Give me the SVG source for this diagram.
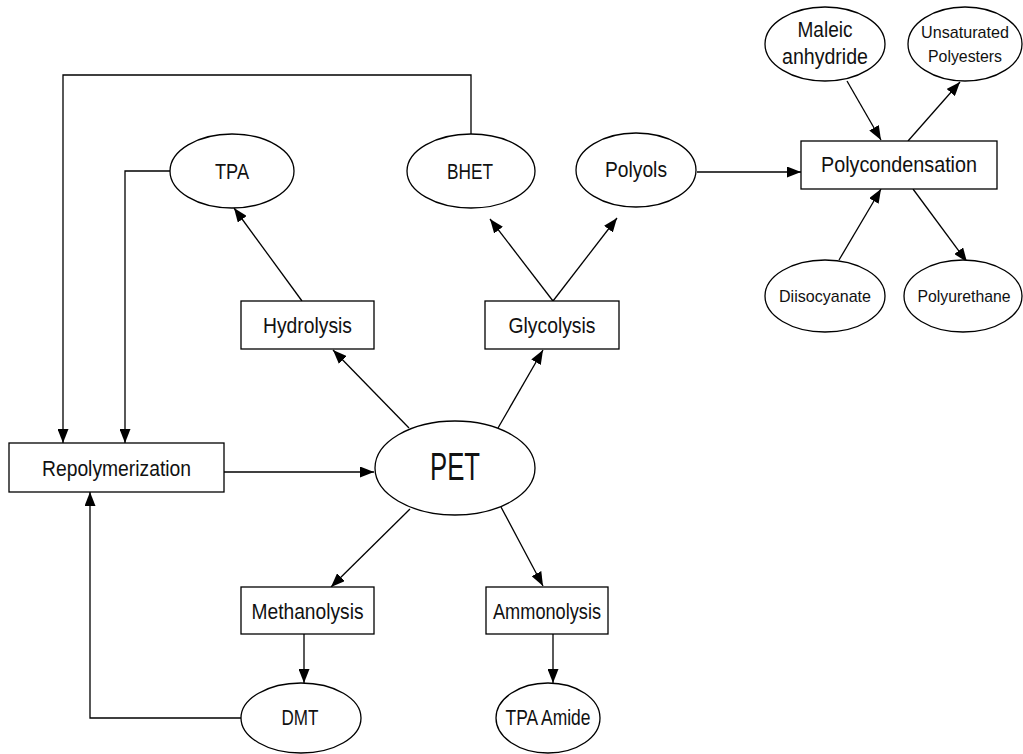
<svg xmlns="http://www.w3.org/2000/svg" width="1023" height="754" viewBox="0 0 1023 754">
<style>
.n{fill:#fff;stroke:#000;stroke-width:1.3}
.t{font-family:"Liberation Sans",Arial,sans-serif;font-size:22px;fill:#111;text-anchor:middle}
.s{font-size:17px}
.c{fill:none;stroke:#000;stroke-width:1.3}
</style>
<defs>
<marker id="a" markerUnits="userSpaceOnUse" markerWidth="15" markerHeight="11" refX="14" refY="5.5" orient="auto"><path d="M0,0 L14,5.5 L0,11 z" fill="#000"/></marker>
</defs>
<rect width="1023" height="754" fill="#fff"/>
<g id="connectors">
<polyline class="c" points="471,134 471,75 63,75 63,443" marker-end="url(#a)"/>
<polyline class="c" points="170,171 125,171 125,443" marker-end="url(#a)"/>
<polyline class="c" points="241,718 90,718 90,492" marker-end="url(#a)"/>
<line class="c" x1="224" y1="472" x2="374" y2="472" marker-end="url(#a)"/>
<line class="c" x1="409" y1="428" x2="333" y2="350" marker-end="url(#a)"/>
<line class="c" x1="498" y1="428" x2="543" y2="350" marker-end="url(#a)"/>
<line class="c" x1="410" y1="509" x2="331" y2="587" marker-end="url(#a)"/>
<line class="c" x1="501" y1="507" x2="543" y2="586" marker-end="url(#a)"/>
<line class="c" x1="302" y1="301" x2="234" y2="208" marker-end="url(#a)"/>
<line class="c" x1="553" y1="301" x2="490" y2="219" marker-end="url(#a)"/>
<line class="c" x1="553" y1="301" x2="617" y2="218" marker-end="url(#a)"/>
<line class="c" x1="304" y1="634" x2="304" y2="683" marker-end="url(#a)"/>
<line class="c" x1="553" y1="634" x2="553" y2="683" marker-end="url(#a)"/>
<line class="c" x1="697" y1="172" x2="801" y2="172" marker-end="url(#a)"/>
<line class="c" x1="847" y1="81" x2="881" y2="140" marker-end="url(#a)"/>
<line class="c" x1="908" y1="141" x2="960" y2="82" marker-end="url(#a)"/>
<line class="c" x1="839" y1="260" x2="881" y2="189" marker-end="url(#a)"/>
<line class="c" x1="913" y1="189" x2="967" y2="262" marker-end="url(#a)"/>
</g>
<g id="pet"><ellipse class="n" cx="455" cy="468" rx="80" ry="47"/><text class="t" x="455" y="480" style="font-size:38px" textLength="50" lengthAdjust="spacingAndGlyphs">PET</text></g>
<g id="repolymerization"><rect class="n" x="9" y="443" width="215" height="49"/><text class="t" x="116.5" y="476" textLength="149" lengthAdjust="spacingAndGlyphs">Repolymerization</text></g>
<g id="hydrolysis"><rect class="n" x="241" y="301" width="133" height="48"/><text class="t" x="307.5" y="333" textLength="89" lengthAdjust="spacingAndGlyphs">Hydrolysis</text></g>
<g id="glycolysis"><rect class="n" x="485" y="301" width="134" height="48"/><text class="t" x="552" y="333" textLength="87" lengthAdjust="spacingAndGlyphs">Glycolysis</text></g>
<g id="methanolysis"><rect class="n" x="241" y="587" width="133" height="47"/><text class="t" x="307.5" y="619" textLength="112" lengthAdjust="spacingAndGlyphs">Methanolysis</text></g>
<g id="ammonolysis"><rect class="n" x="486" y="587" width="122" height="47"/><text class="t" x="547" y="619" textLength="108" lengthAdjust="spacingAndGlyphs">Ammonolysis</text></g>
<g id="tpa"><ellipse class="n" cx="232" cy="171" rx="62" ry="37"/><text class="t" x="232" y="179" textLength="34" lengthAdjust="spacingAndGlyphs">TPA</text></g>
<g id="bhet"><ellipse class="n" cx="471" cy="171" rx="64" ry="37"/><text class="t" x="470" y="179" textLength="46" lengthAdjust="spacingAndGlyphs">BHET</text></g>
<g id="polyols"><ellipse class="n" cx="636" cy="170" rx="60" ry="37"/><text class="t" x="636" y="177" textLength="62" lengthAdjust="spacingAndGlyphs">Polyols</text></g>
<g id="dmt"><ellipse class="n" cx="301" cy="718" rx="60" ry="35"/><text class="t" x="300" y="725" textLength="37" lengthAdjust="spacingAndGlyphs">DMT</text></g>
<g id="tpa-amide"><ellipse class="n" cx="548" cy="718" rx="52" ry="35"/><text class="t" x="548" y="725" textLength="85" lengthAdjust="spacingAndGlyphs">TPA Amide</text></g>
<g id="polycondensation"><rect class="n" x="801" y="141" width="196" height="48"/><text class="t" x="899" y="172" textLength="156" lengthAdjust="spacingAndGlyphs">Polycondensation</text></g>
<g id="maleic-anhydride"><ellipse class="n" cx="825" cy="44" rx="60" ry="37"/><text class="t" x="825" y="37" textLength="55" lengthAdjust="spacingAndGlyphs">Maleic</text><text class="t" x="825" y="64" textLength="86" lengthAdjust="spacingAndGlyphs">anhydride</text></g>
<g id="unsaturated-polyesters"><ellipse class="n" cx="965" cy="44" rx="57" ry="37"/><text class="t s" x="965" y="38" textLength="88" lengthAdjust="spacingAndGlyphs">Unsaturated</text><text class="t s" x="965" y="62" textLength="74" lengthAdjust="spacingAndGlyphs">Polyesters</text></g>
<g id="diisocyanate"><ellipse class="n" cx="825" cy="296" rx="60" ry="36"/><text class="t s" x="825" y="302" textLength="92" lengthAdjust="spacingAndGlyphs">Diisocyanate</text></g>
<g id="polyurethane"><ellipse class="n" cx="963" cy="296" rx="59" ry="36"/><text class="t s" x="964" y="302" textLength="93" lengthAdjust="spacingAndGlyphs">Polyurethane</text></g>
</svg>
